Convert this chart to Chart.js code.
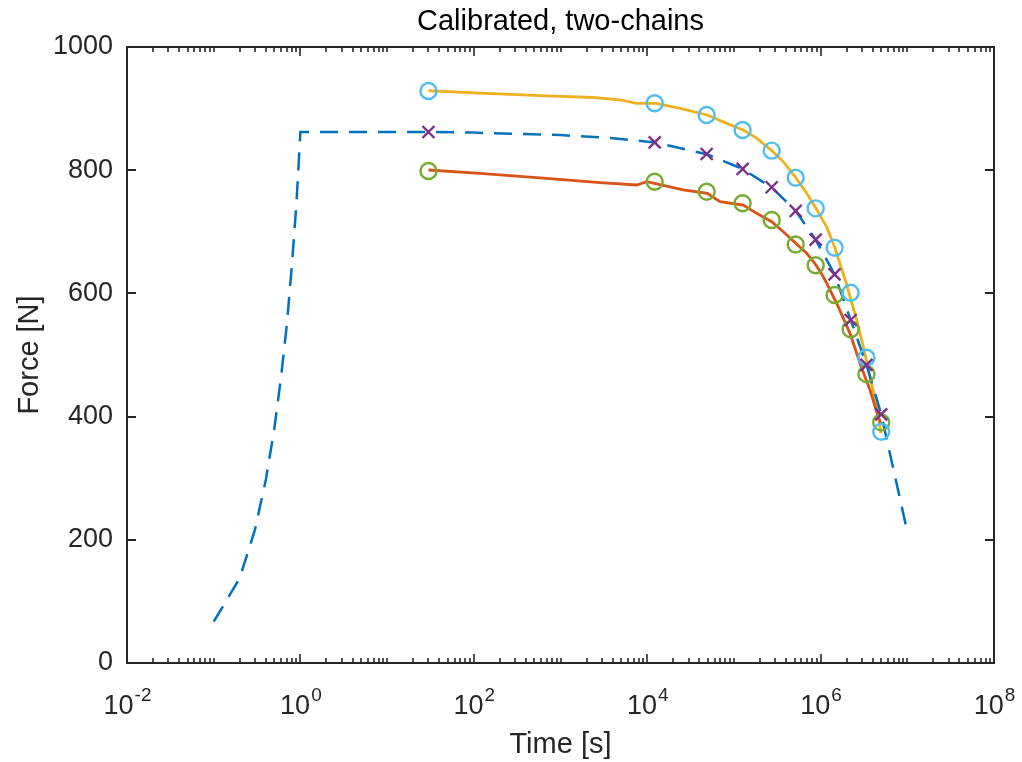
<!DOCTYPE html>
<html>
<head>
<meta charset="utf-8">
<script src="https://cdn.jsdelivr.net/npm/chart.js@4.4.1/dist/chart.umd.min.js"></script>
<style>
html,body{margin:0;padding:0;background:#ffffff;}
#wrap{width:1022px;height:762px;}
</style>
</head>
<body>
<div id="wrap"><canvas id="c" width="1022" height="762"></canvas></div>
<script>
// ---------- data ----------
const modelTime  = [0.1,0.2,0.3,0.4,0.5,0.6,0.7,0.8,0.9,1,10,30,100,1000,4000,12200,48500,126000,273000,516000,877000,1450000,2220000,3380000,5000000,10000000];
const modelForce = [67,138,217,298,380,466,551,648,746,862,862,862,861,857,852,845,826,802,772,734,687,631,557,484,404,213];

const upperTime  = [30,118,693,2390,4856,7568,12880,23930,49320,82600,128300,183200,272900,371500,516400,691800,885100,1175000,1455000,2000000,2608000,3105000,3715000,4437000,4974000];
const upperForce = [929,925,920.5,918,914,908.6,908.6,900.5,889.6,876,865.3,852,831.7,814,788,762.5,738,708,675,614,557,513.5,465,416,373.4];

const lowerTime  = [30,118,693,2857,7568,9863,12080,26060,49320,69180,128300,183200,272900,371500,516400,691800,885100,1074000,1535000,2183000,2844000,3715000,4634000,4974000];
const lowerForce = [800.3,795,786.8,779.7,776,781.3,778.7,767.9,762.5,748.9,743.5,730,716.4,700.2,681.3,665.1,646.1,627.1,583.9,535.2,486.5,443.2,399.8,388];

const markerTime  = [30,12200,48500,126000,273000,516000,877000,1450000,2220000,3380000,5000000];
const upperMarks  = [928.6,908.6,889.6,865.3,831.7,787.8,738.1,674,601.1,495.6,375.5];
const modelMarks  = [862,845.3,826.3,802,772.3,733.8,687.3,631,556.8,483.8,403.7];
const lowerMarks  = [798.7,781.3,765.1,746.3,719.2,679.4,645.8,597.4,541.7,469.2,390.7];

const yTickValues    = [0,200,400,600,800,1000];
const xTickExponents = [-2,0,2,4,6,8];

const chartTitle = 'Calibrated, two-chains';
const xLabel = 'Time [s]';
const yLabel = 'Force [N]';

// ---------- styles ----------
const FONT = '"Liberation Sans", Arial, Helvetica, sans-serif';
const AX = '#262626';
const C_MODEL = '#0072BD', C_LOWER = '#D95319', C_UPPER = '#EDB120', C_X = '#7E2F8E', C_G = '#77AC30', C_LB = '#4DBEEE';
const TICK_FS = 27, EXP_FS = 19, LABEL_FS = 29;

const pts = (xs, ys) => xs.map((x, i) => ({x: x, y: ys[i]}));

const axesPlugin = {
  id: 'matlabAxes',
  afterDraw(chart) {
    const {ctx, chartArea: a, scales: {x, y}} = chart;
    ctx.save();
    ctx.strokeStyle = AX;
    ctx.lineWidth = 2;
    ctx.lineCap = 'butt';
    const seg = (x1, y1, x2, y2) => { ctx.beginPath(); ctx.moveTo(x1, y1); ctx.lineTo(x2, y2); ctx.stroke(); };
    // y ticks (inward, both sides)
    yTickValues.forEach(v => {
      const py = Math.round(y.getPixelForValue(v));
      seg(a.left, py, a.left + 9, py);
      seg(a.right, py, a.right - 9, py);
    });
    // x ticks (log, major + minor, top and bottom)
    ctx.lineWidth = 1.6;
    const e0 = xTickExponents[0], e1 = xTickExponents[xTickExponents.length - 1];
    for (let e = e0; e <= e1; e++) {
      for (let m = 1; m <= 9; m++) {
        if (e === e1 && m > 1) break;
        const px = Math.round(x.getPixelForValue(m * Math.pow(10, e)));
        const len = (m === 1 && xTickExponents.includes(e)) ? 9 : 5;
        seg(px, a.bottom, px, a.bottom - len);
        seg(px, a.top, px, a.top + len);
      }
    }
    // box
    ctx.lineWidth = 2;
    ctx.strokeRect(a.left, a.top, a.right - a.left, a.bottom - a.top);
    // x tick labels 10^e
    ctx.fillStyle = AX;
    ctx.textBaseline = 'alphabetic';
    ctx.textAlign = 'left';
    xTickExponents.forEach(e => {
      const px = x.getPixelForValue(Math.pow(10, e));
      const base = '10', ex = String(e);
      ctx.font = TICK_FS + 'px ' + FONT;
      const w1 = ctx.measureText(base).width;
      ctx.font = EXP_FS + 'px ' + FONT;
      const w2 = ctx.measureText(ex).width;
      const x0 = px - (w1 + w2) / 2;
      ctx.font = TICK_FS + 'px ' + FONT;
      ctx.fillText(base, x0, a.bottom + 51);
      ctx.font = EXP_FS + 'px ' + FONT;
      ctx.fillText(ex, x0 + w1 + 1, a.bottom + 38);
    });
    ctx.restore();
  }
};

const lineDS = (label, data, color, width, dash, order) => ({
  label, data, borderColor: color, backgroundColor: color, borderWidth: width,
  borderDash: dash, pointRadius: 0, showLine: true, fill: false, tension: 0, order
});
const markDS = (label, data, color, style, r, order) => ({
  label, data, showLine: false, pointStyle: style, pointRadius: r, pointBorderWidth: 2.4,
  pointBorderColor: color, pointBackgroundColor: 'rgba(0,0,0,0)', borderColor: color, backgroundColor: 'rgba(0,0,0,0)', order
});

new Chart(document.getElementById('c'), {
  type: 'line',
  data: {
    datasets: [
      markDS('Model markers', pts(markerTime, modelMarks), C_X, 'crossRot', 8.5, 0),
      markDS('Upper markers', pts(markerTime, upperMarks), C_LB, 'circle', 8, 1),
      markDS('Lower markers', pts(markerTime, lowerMarks), C_G, 'circle', 8, 2),
      lineDS('Model', pts(modelTime, modelForce), C_MODEL, 2.5, [18, 11], 3),
      lineDS('Lower', pts(lowerTime, lowerForce), C_LOWER, 2.8, [], 4),
      lineDS('Upper', pts(upperTime, upperForce), C_UPPER, 2.8, [], 5)
    ]
  },
  options: {
    responsive: false,
    animation: false,
    devicePixelRatio: 1,
    layout: {padding: {left: 0, right: 28, top: 0, bottom: 0}},
    plugins: {
      legend: {display: false},
      tooltip: {enabled: false},
      title: {
        display: true, text: chartTitle, color: '#000000', fullSize: false,
        font: {family: FONT, size: LABEL_FS, weight: 'normal', lineHeight: 1.2},
        padding: {top: 5, bottom: 7.2}
      }
    },
    scales: {
      x: {
        type: 'logarithmic', min: 0.01, max: 1e8,
        grid: {display: false, drawTicks: false},
        border: {display: false},
        ticks: {display: false},
        title: {display: true, text: xLabel, color: AX, font: {family: FONT, size: LABEL_FS, lineHeight: 1.2}, padding: {top: 0, bottom: 0}},
        afterFit: s => { s.height = 99; }
      },
      y: {
        type: 'linear', min: 0, max: 1000,
        grid: {display: false, drawTicks: false},
        border: {display: false},
        afterBuildTicks: s => { s.ticks = yTickValues.map(v => ({value: v})); },
        ticks: {color: AX, padding: 14, font: {family: FONT, size: TICK_FS}, callback: v => String(v)},
        title: {display: true, text: yLabel, color: AX, font: {family: FONT, size: LABEL_FS, lineHeight: 1.2}, padding: {top: 13, bottom: 0}},
        afterFit: s => { s.width = 127; }
      }
    }
  },
  plugins: [axesPlugin]
});
</script>
</body>
</html>
